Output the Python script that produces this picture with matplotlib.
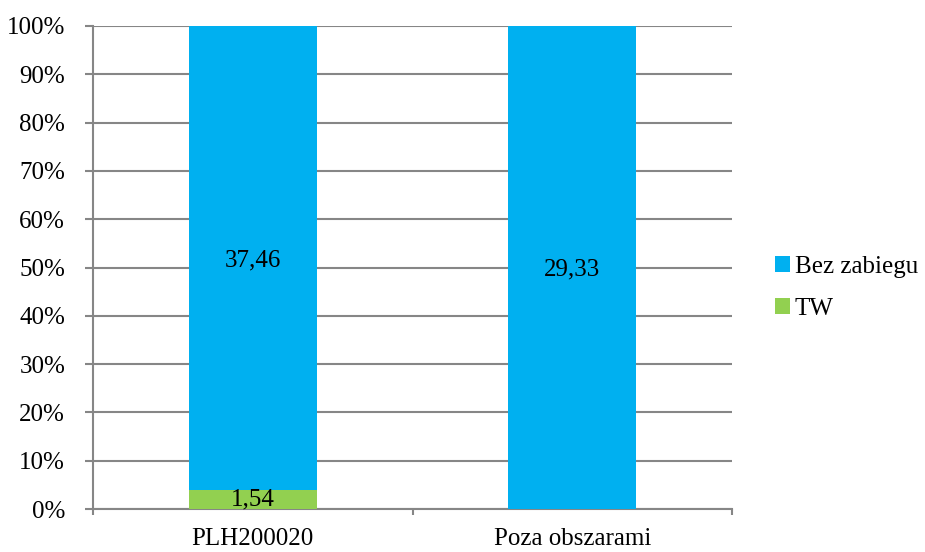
import matplotlib.pyplot as plt
import numpy as np

plt.rcParams['font.family'] = ['Liberation Serif', 'DejaVu Serif']

kategorie = ['PLH200020', 'Poza obszarami']
tw = np.array([1.54, 0.0])
bez_zabiegu = np.array([37.46, 29.33])

suma = tw + bez_zabiegu
tw_pr = tw / suma * 100
bz_pr = bez_zabiegu / suma * 100

fig = plt.figure(figsize=(9.25, 5.52), dpi=100)
ax = fig.add_axes([93/925, 1 - 509/552, (732-93)/925, (509-26)/552])

x = np.arange(len(kategorie))
szer = 0.4
b1 = ax.bar(x, tw_pr, szer, color='#92D050', label='TW', zorder=3)
b2 = ax.bar(x, bz_pr, szer, bottom=tw_pr, color='#00B0F0', label='Bez zabiegu', zorder=3)

# etykiety wartości w środku segmentów
for i in range(len(x)):
    if tw[i] > 0:
        ax.text(x[i], tw_pr[i] / 2, f'{tw[i]:.2f}'.replace('.', ','),
                ha='center', va='center', fontsize=18, zorder=4)
    ax.text(x[i], tw_pr[i] + bz_pr[i] / 2 - 0.5, f'{bez_zabiegu[i]:.2f}'.replace('.', ','),
            ha='center', va='center', fontsize=18, zorder=4)

ax.set_xlim(-0.5, 1.5)
ax.set_ylim(0, 100)
ax.set_yticks(np.arange(0, 101, 10))
ax.set_yticklabels([f'{v}%' for v in range(0, 101, 10)], fontsize=18)
ax.yaxis.grid(True, color='#868686', linewidth=1.5, zorder=0)

ax.set_xticks(x)
ax.set_xticklabels(kategorie, fontsize=18)
ax.tick_params(axis='x', length=0, pad=14)
ax.set_xticks([-0.5, 0.5, 1.5], minor=True)
ax.tick_params(axis='x', which='minor', length=4.5, width=1.5, color='#868686')
ax.tick_params(axis='y', length=6, width=1.5, color='#868686', pad=14)

for s in ['top', 'right']:
    ax.spines[s].set_visible(False)
for s in ['left', 'bottom']:
    ax.spines[s].set_color('#868686')
    ax.spines[s].set_linewidth(1.5)

ax.legend(handles=[b2, b1], loc='center left', bbox_to_anchor=(1.067, 0.458),
          frameon=False, fontsize=18, handlelength=0.6, handleheight=0.6,
          handletextpad=0.2, labelspacing=0.8, borderpad=0, borderaxespad=0)

fig.savefig('out.png', dpi=100)
